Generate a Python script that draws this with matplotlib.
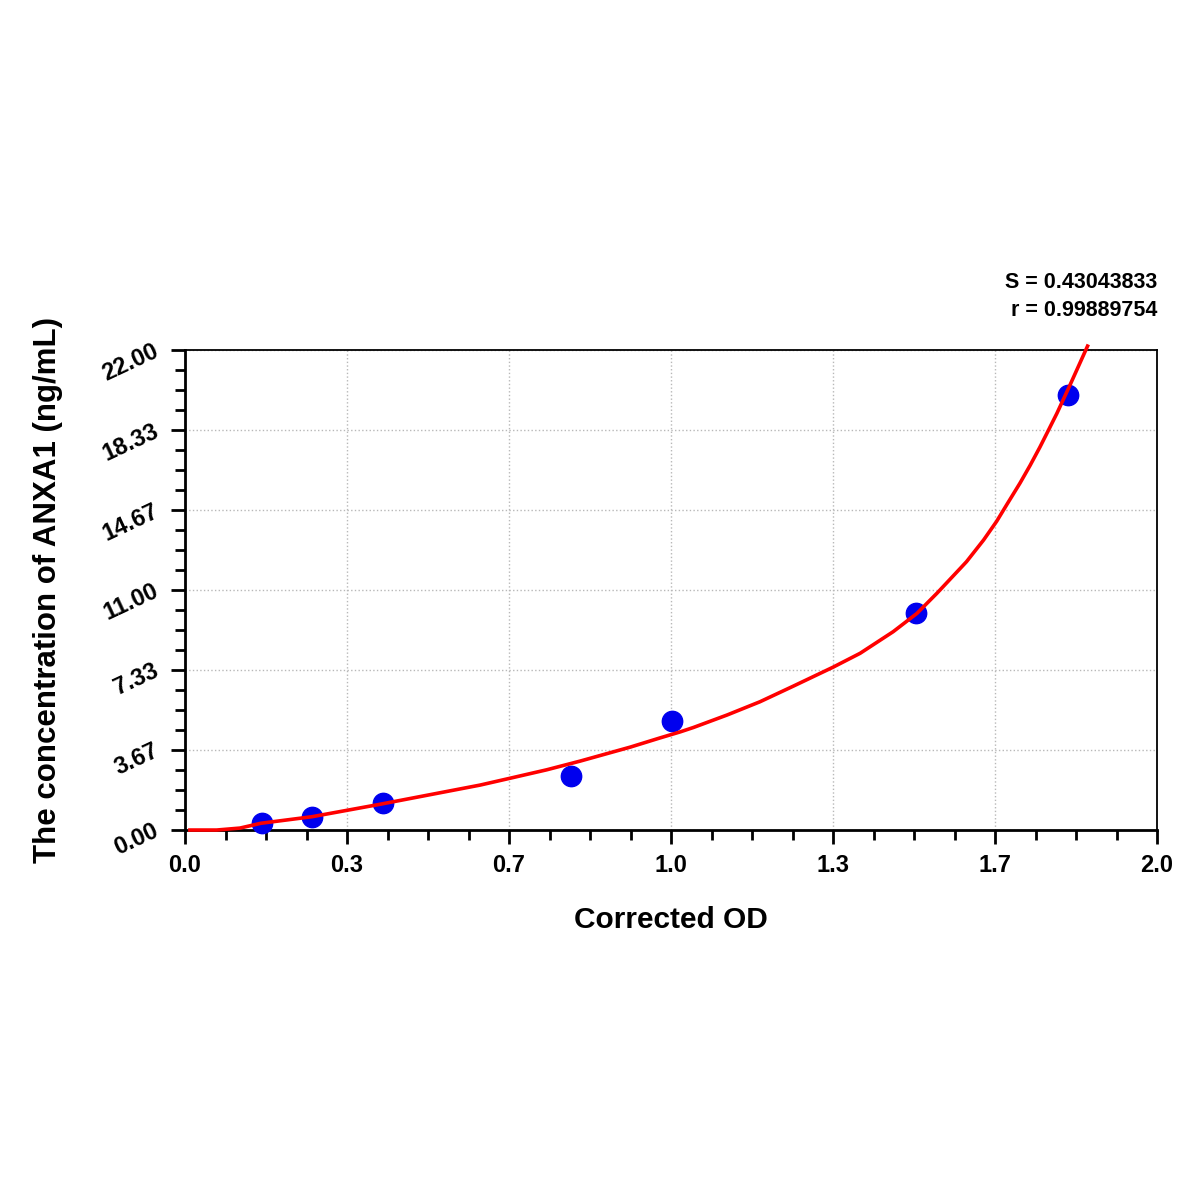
import matplotlib.pyplot as plt
from matplotlib.ticker import FixedLocator

plt.rcParams['font.family'] = ['Liberation Sans', 'DejaVu Sans']

# standard points (corrected OD vs concentration)
od = [0.158, 0.261, 0.407, 0.794, 1.002, 1.504, 1.817]
conc = [0.32, 0.60, 1.24, 2.47, 5.00, 9.94, 19.94]

# fitted curve
curve_od = [0.010, 0.065, 0.113, 0.156, 0.261, 0.401, 0.504, 0.607, 0.666, 0.744,
            0.813, 0.916, 0.977, 1.019, 1.046, 1.115, 1.183, 1.252, 1.333, 1.389,
            1.457, 1.506, 1.547, 1.595, 1.608, 1.643, 1.670, 1.691, 1.718, 1.739,
            1.759, 1.776, 1.794, 1.821, 1.857]
curve_conc = [0.00, 0.00, 0.09, 0.31, 0.61, 1.18, 1.62, 2.06, 2.36, 2.76,
              3.16, 3.80, 4.22, 4.50, 4.70, 5.27, 5.88, 6.60, 7.46, 8.10,
              9.09, 9.93, 10.85, 11.99, 12.30, 13.29, 14.15, 14.92, 15.90, 16.72,
              17.55, 18.30, 19.10, 20.40, 22.18]

x_ticks = [0, 2/6, 4/6, 1.0, 8/6, 10/6, 2.0]
x_labels = ['0.0', '0.3', '0.7', '1.0', '1.3', '1.7', '2.0']
y_ticks = [0, 22/6, 44/6, 11.0, 88/6, 110/6, 22.0]
y_labels = ['0.00', '3.67', '7.33', '11.00', '14.67', '18.33', '22.00']

fig = plt.figure(figsize=(12, 12), dpi=100)
ax = fig.add_axes([0.1542, 0.3083, 0.81, 0.40])

ax.scatter(od, conc, s=215, color='#0000ee', zorder=3, clip_on=False)
ax.plot(curve_od, curve_conc, color='#ff0000', lw=2.6, zorder=4, clip_on=False,
        solid_joinstyle='round')

ax.set_xlim(0, 2.0)
ax.set_ylim(0, 22.0)

ax.xaxis.set_major_locator(FixedLocator(x_ticks))
ax.xaxis.set_minor_locator(FixedLocator([i * 2 / 24 for i in range(25)]))
ax.yaxis.set_major_locator(FixedLocator(y_ticks))
ax.yaxis.set_minor_locator(FixedLocator([i * 22 / 24 for i in range(25)]))
ax.set_xticklabels(x_labels, fontsize=17, fontweight='bold')
ax.set_yticklabels(y_labels, fontsize=17, fontweight='bold', rotation=25,
                   ha='right', va='center', rotation_mode='anchor')

ax.tick_params(axis='both', which='major', direction='out', length=10, width=2)
ax.tick_params(axis='both', which='minor', direction='out', length=7, width=2)
ax.tick_params(axis='x', which='major', pad=7)
ax.tick_params(axis='y', which='major', pad=10)
ax.tick_params(top=False, right=False, which='both')

for side in ['left', 'bottom']:
    ax.spines[side].set_linewidth(2)
for side in ['top', 'right']:
    ax.spines[side].set_linewidth(1.3)

ax.grid(True, which='major', linestyle=':', color='#b8b8b8', linewidth=1)
ax.set_axisbelow(True)

ax.set_xlabel('Corrected OD', fontsize=21.5, fontweight='bold')
ax.set_ylabel('The concentration of ANXA1 (ng/mL)', fontsize=22.5, fontweight='bold')
ax.xaxis.set_label_coords(0.5, -0.1875)
ax.xaxis.label.set_va('center')
ax.yaxis.set_label_coords(-0.141, 0.5)
ax.yaxis.label.set_va('center')

fig.text(0.9642, 1 - 282 / 1200, 'S = 0.43043833', fontsize=15.5, fontweight='bold',
         ha='right', va='center')
fig.text(0.9642, 1 - 311 / 1200, 'r = 0.99889754', fontsize=15.5, fontweight='bold',
         ha='right', va='center')

fig.savefig('out.png', dpi=100)
